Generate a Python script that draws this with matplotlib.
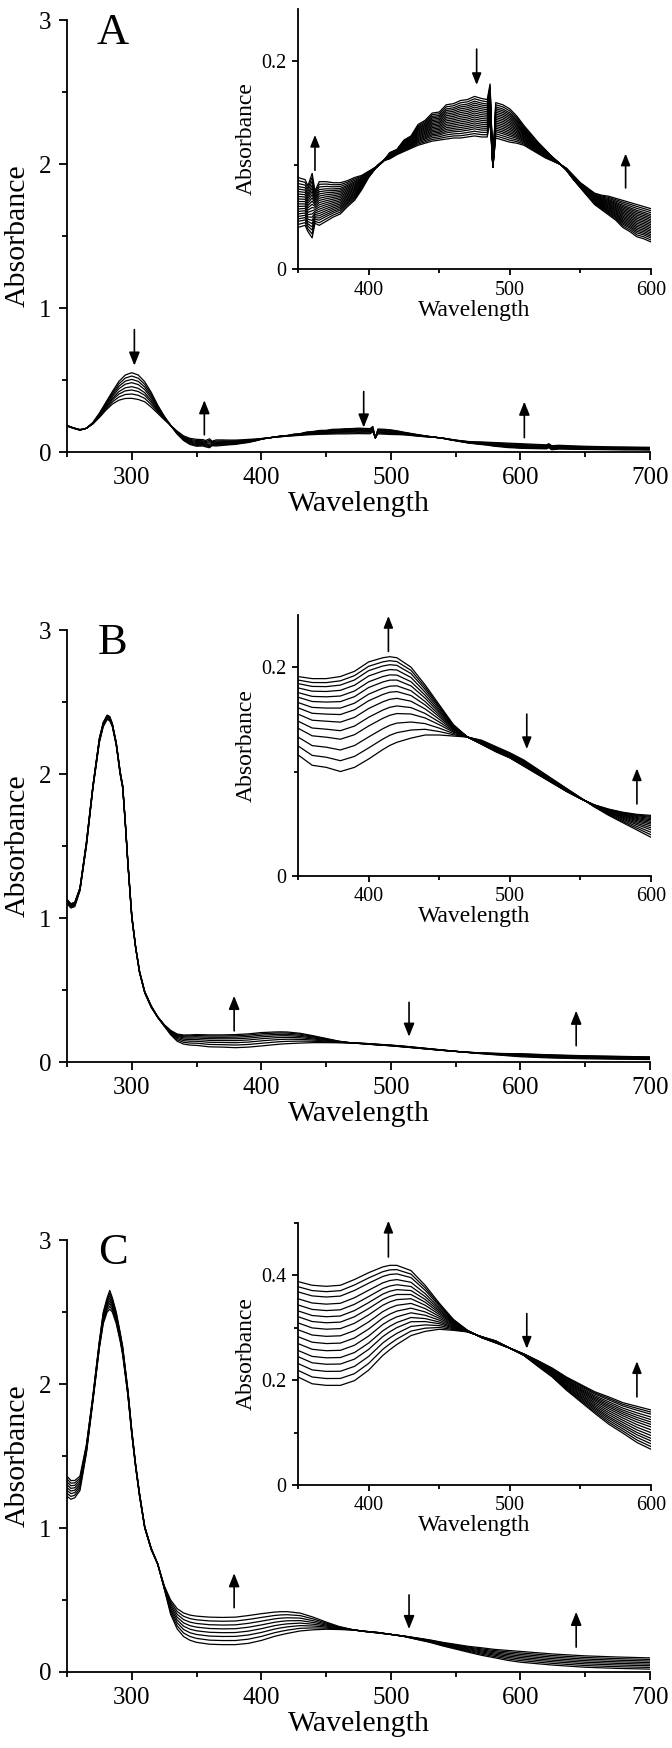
import numpy as np
import matplotlib

matplotlib.use("Agg")
import matplotlib.pyplot as plt
from matplotlib.ticker import MultipleLocator

plt.rcParams["font.family"] = ["Liberation Serif", "DejaVu Serif"]

# ---- panel A: wavelength grid, first and last spectra of the series ----
wl_a = [250, 255, 260, 265, 270, 275, 280, 285, 290, 295, 300, 305, 310, 315, 320,
        325, 330, 335, 340, 345, 350, 355, 357, 360, 362, 365, 370, 375, 380, 385,
        390, 395, 400, 405, 410, 415, 420, 425, 430, 435, 440, 445, 450, 455, 460,
        465, 470, 475, 480, 484, 486, 488, 490, 495, 500, 505, 510, 515, 520, 525,
        530, 535, 540, 545, 550, 555, 560, 565, 570, 575, 580, 585, 590, 595, 600,
        610, 620, 622, 624, 630, 640, 650, 660, 670, 680, 690, 700]
a_first = [0.180, 0.165, 0.152, 0.165, 0.205, 0.270, 0.345, 0.420, 0.490, 0.535, 0.551,
           0.535, 0.488, 0.415, 0.326, 0.250, 0.185, 0.125, 0.080, 0.052, 0.040, 0.042,
           0.036, 0.030, 0.044, 0.042, 0.046, 0.050, 0.053, 0.060, 0.066, 0.076, 0.088,
           0.097, 0.103, 0.112, 0.115, 0.124, 0.128, 0.139, 0.143, 0.150, 0.151, 0.158,
           0.159, 0.162, 0.163, 0.166, 0.164, 0.163, 0.178, 0.098, 0.160, 0.158, 0.154,
           0.147, 0.138, 0.130, 0.122, 0.115, 0.108, 0.102, 0.095, 0.086, 0.078, 0.070,
           0.062, 0.057, 0.052, 0.047, 0.040, 0.036, 0.031, 0.029, 0.026, 0.024, 0.022,
           0.030, 0.016, 0.021, 0.019, 0.018, 0.017, 0.016, 0.015, 0.015, 0.014]
a_last = [0.185, 0.168, 0.156, 0.165, 0.195, 0.240, 0.290, 0.333, 0.360, 0.372, 0.373,
          0.365, 0.349, 0.312, 0.269, 0.225, 0.185, 0.145, 0.112, 0.095, 0.088, 0.086,
          0.080, 0.092, 0.075, 0.084, 0.084, 0.083, 0.083, 0.085, 0.088, 0.090, 0.094,
          0.098, 0.104, 0.106, 0.110, 0.113, 0.116, 0.119, 0.121, 0.123, 0.124, 0.125,
          0.126, 0.126, 0.127, 0.128, 0.127, 0.127, 0.142, 0.098, 0.126, 0.124, 0.122,
          0.121, 0.119, 0.115, 0.111, 0.107, 0.104, 0.101, 0.097, 0.090, 0.083, 0.078,
          0.073, 0.071, 0.070, 0.068, 0.066, 0.064, 0.062, 0.060, 0.058, 0.054, 0.050,
          0.058, 0.044, 0.047, 0.043, 0.040, 0.038, 0.036, 0.035, 0.034, 0.033]

# ---- panels B and C share one wavelength grid ----
wl_bc = [250, 253, 256, 260, 265, 270, 275, 278, 281, 283, 285, 288, 291, 293, 295,
         297, 300, 303, 306, 310, 315, 320, 325, 330, 335, 340, 345, 350, 360, 370,
         380, 390, 400, 410, 415, 420, 430, 440, 450, 460, 470, 480, 490, 500, 510,
         520, 530, 540, 550, 560, 570, 580, 590, 600, 625, 650, 675, 700]
b_first = [1.10, 1.07, 1.08, 1.19, 1.50, 1.90, 2.22, 2.33, 2.38, 2.37, 2.33, 2.20, 2.00,
           1.90, 1.65, 1.37, 1.00, 0.79, 0.62, 0.48, 0.38, 0.31, 0.25, 0.19, 0.145,
           0.125, 0.118, 0.116, 0.106, 0.104, 0.100, 0.104, 0.112, 0.121, 0.125, 0.128,
           0.132, 0.135, 0.135, 0.134, 0.133, 0.130, 0.124, 0.118, 0.111, 0.102, 0.093,
           0.084, 0.075, 0.066, 0.058, 0.051, 0.044, 0.037, 0.028, 0.023, 0.020, 0.018]
b_last = [1.13, 1.10, 1.11, 1.21, 1.53, 1.92, 2.25, 2.36, 2.41, 2.40, 2.35, 2.22, 2.02,
          1.92, 1.67, 1.39, 1.02, 0.80, 0.63, 0.49, 0.39, 0.315, 0.26, 0.22, 0.195,
          0.188, 0.189, 0.191, 0.189, 0.189, 0.191, 0.196, 0.205, 0.209, 0.210, 0.209,
          0.200, 0.183, 0.164, 0.145, 0.133, 0.126, 0.119, 0.113, 0.105, 0.097, 0.089,
          0.081, 0.074, 0.068, 0.064, 0.061, 0.059, 0.058, 0.050, 0.044, 0.040, 0.036]
c_first = [1.22, 1.20, 1.21, 1.26, 1.52, 1.88, 2.25, 2.42, 2.50, 2.52, 2.50, 2.42, 2.30,
           2.20, 2.06, 1.92, 1.65, 1.42, 1.22, 1.00, 0.85, 0.75, 0.58, 0.40, 0.30,
           0.246, 0.220, 0.206, 0.193, 0.190, 0.190, 0.199, 0.219, 0.247, 0.258, 0.268,
           0.285, 0.293, 0.297, 0.295, 0.292, 0.283, 0.275, 0.261, 0.247, 0.226, 0.206,
           0.181, 0.159, 0.137, 0.116, 0.099, 0.081, 0.068, 0.048, 0.033, 0.025, 0.020]
c_last = [1.36, 1.33, 1.33, 1.36, 1.58, 1.92, 2.30, 2.50, 2.60, 2.65, 2.60, 2.50, 2.36,
          2.26, 2.11, 1.96, 1.68, 1.44, 1.24, 1.01, 0.86, 0.75, 0.60, 0.50, 0.44,
          0.410, 0.395, 0.388, 0.381, 0.379, 0.381, 0.392, 0.405, 0.416, 0.419, 0.419,
          0.409, 0.381, 0.347, 0.316, 0.295, 0.281, 0.271, 0.261, 0.250, 0.237, 0.223,
          0.206, 0.192, 0.178, 0.168, 0.157, 0.150, 0.143, 0.125, 0.112, 0.104, 0.098]

a_main_frac = [0.0, 0.13, 0.26, 0.39, 0.545, 0.675, 0.83, 1.0]
a_inset_frac = [0.0, 0.06, 0.12, 0.17, 0.22, 0.27, 0.32, 0.37, 0.42, 0.47,
                0.52, 0.57, 0.62, 0.67, 0.72, 0.77, 0.82, 0.88, 0.94, 1.0]
b_main_frac = [0.0, 0.2, 0.38, 0.54, 0.68, 0.8, 0.91, 1.0]
b_inset_frac = [0.0, 0.114, 0.227, 0.34, 0.43, 0.52, 0.6, 0.668, 0.736,
                0.795, 0.855, 0.91, 0.955, 1.0]
c_main_frac = [0.0, 0.15, 0.3, 0.44, 0.58, 0.72, 0.86, 1.0]
c_inset_frac = [0.0, 0.069, 0.141, 0.213, 0.278, 0.35, 0.422, 0.495, 0.567,
                0.632, 0.693, 0.755, 0.82, 0.892, 0.946, 1.0]

# arrows: (wavelength, start absorbance, end absorbance)
a_main_arrows = [(302, 0.85, 0.60), (356, 0.12, 0.36), (479, 0.42, 0.17), (603, 0.10, 0.35)]
a_inset_arrows = [(362, 0.095, 0.129), (476.5, 0.2115, 0.177), (582, 0.078, 0.111)]
b_main_arrows = [(379, 0.217, 0.46), (514, 0.415, 0.176), (643, 0.114, 0.357)]
b_inset_arrows = [(414, 0.215, 0.249), (512, 0.155, 0.1215), (590, 0.069, 0.103)]
c_main_arrows = [(379, 0.447, 0.686), (514, 0.535, 0.298), (643, 0.173, 0.418)]
c_inset_arrows = [(414, 0.435, 0.504), (512, 0.327, 0.26), (590, 0.168, 0.236)]


def style_axes(ax, major_len, minor_len, label_size, pad):
    for side in ("top", "right"):
        ax.spines[side].set_visible(False)
    for side in ("left", "bottom"):
        ax.spines[side].set_linewidth(1.3)
    ax.tick_params(which="major", direction="out", length=major_len, width=1.3,
                   labelsize=label_size, pad=pad)
    ax.tick_params(which="minor", direction="out", length=minor_len, width=1.3)


def draw_arrows(ax, arrows, scale):
    for x, y0, y1 in arrows:
        ax.annotate("", xy=(x, y1), xytext=(x, y0), annotation_clip=False,
                    arrowprops=dict(arrowstyle="-|>,head_length=0.5,head_width=0.2",
                                    color="black", lw=1.2, mutation_scale=scale,
                                    shrinkA=0, shrinkB=0))


def draw_series(ax, wl, first, last, fracs, lw):
    first = np.asarray(first)
    last = np.asarray(last)
    for f in fracs:
        ax.plot(wl, first + f * (last - first), color="black", lw=lw)


def plot_panel(fig, main_rect, inset_rect, letter, wl, first, last,
               main_frac, inset_frac, main_arrows, inset_arrows,
               inset_ymax, inset_yticks, inset_ylabels):
    ax = fig.add_axes(main_rect)
    draw_series(ax, wl, first, last, main_frac, 0.9)
    ax.set_xlim(250, 700)
    ax.set_ylim(0, 3)
    ax.set_xticks([300, 400, 500, 600, 700])
    ax.xaxis.set_minor_locator(MultipleLocator(50))
    ax.set_yticks([0, 1, 2, 3], ["0", "1", "2", "3"])
    ax.yaxis.set_minor_locator(MultipleLocator(0.5))
    style_axes(ax, 6, 3.5, 18, 5)
    ax.set_xlabel("Wavelength", fontsize=21.5, labelpad=1)
    ax.set_ylabel("Absorbance", fontsize=21.5, labelpad=6)
    ax.text(0.079, 0.9456, letter, transform=ax.transAxes, fontsize=32,
            ha="center", va="baseline")
    draw_arrows(ax, main_arrows, 16)

    ins = fig.add_axes(inset_rect)
    ins.patch.set_alpha(0)
    draw_series(ins, wl, first, last, inset_frac, 0.9)
    ins.set_xlim(350, 600)
    ins.set_ylim(0, inset_ymax)
    ins.set_xticks([400, 500, 600])
    ins.xaxis.set_minor_locator(MultipleLocator(50))
    ins.set_yticks(inset_yticks, inset_ylabels)
    ins.yaxis.set_minor_locator(MultipleLocator(0.1))
    style_axes(ins, 4.3, 3, 14.5, 4)
    ins.set_xlabel("Wavelength", fontsize=17, labelpad=0)
    ins.set_ylabel("Absorbance", fontsize=17, labelpad=3)
    draw_arrows(ins, inset_arrows, 14)


fig = plt.figure(figsize=(6.72, 17.48), dpi=100)

plot_panel(fig, [0.0997, 0.7414, 0.8676, 0.2471], [0.4435, 0.8461, 0.5253, 0.1487], "A",
           wl_a, a_first, a_last, a_main_frac, a_inset_frac, a_main_arrows, a_inset_arrows,
           0.25, [0, 0.2], ["0", "0.2"])
plot_panel(fig, [0.0997, 0.3924, 0.8676, 0.2471], [0.4435, 0.4989, 0.5253, 0.1493], "B",
           wl_bc, b_first, b_last, b_main_frac, b_inset_frac, b_main_arrows, b_inset_arrows,
           0.25, [0, 0.2], ["0", "0.2"])
plot_panel(fig, [0.0997, 0.04348, 0.8676, 0.2471], [0.4435, 0.1505, 0.5253, 0.1499], "C",
           wl_bc, c_first, c_last, c_main_frac, c_inset_frac, c_main_arrows, c_inset_arrows,
           0.5, [0, 0.2, 0.4], ["0", "0.2", "0.4"])

fig.savefig("out.png", dpi=100)
